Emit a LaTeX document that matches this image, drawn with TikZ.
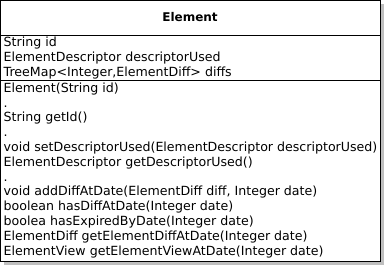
\documentclass[tikz,border=0pt]{standalone}
\usepackage{fontspec}
\setmainfont{DejaVu Sans}
\usepackage{tikz}

\begin{document}
\begin{tikzpicture}[x = 1pt, y = -1pt,
  compart/.style = {anchor=north west, inner sep=0pt, align=left, font=\fontsize{12.6}{14.8}\selectfont},]

\useasboundingbox (0,0) rectangle (385,265);

\fill[black!25] (3.5,3.5) rectangle (384,264.5);
\draw[fill=white, line width=1pt] (0.5,0.5) coordinate (TL) rectangle (380,261.5) coordinate (BR);

\coordinate (S1) at (0.5,35);
\coordinate (S2) at (0.5,80.5);
\draw[line width=1pt] (S1) -- (S1 -| BR);
\draw[line width=1pt] (S2) -- (S2 -| BR);

\node[font=\fontsize{12}{14.8}\selectfont\bfseries] (title) at (190,17.5) {Element};

\node[compart] (attrs) at (3.5,37) {String id\\
ElementDescriptor descriptorUsed\\
TreeMap<Integer,ElementDiff> diffs};

\node[compart] (ops) at (3.5,82.5) {Element(String id)\\
.\\
String getId()\\
.\\
void setDescriptorUsed(ElementDescriptor descriptorUsed)\\
ElementDescriptor getDescriptorUsed()\\
.\\
void addDiffAtDate(ElementDiff diff, Integer date)\\
boolean hasDiffAtDate(Integer date)\\
boolea hasExpiredByDate(Integer date)\\
ElementDiff getElementDiffAtDate(Integer date)\\
ElementView getElementViewAtDate(Integer date)};

\end{tikzpicture}
\end{document}
